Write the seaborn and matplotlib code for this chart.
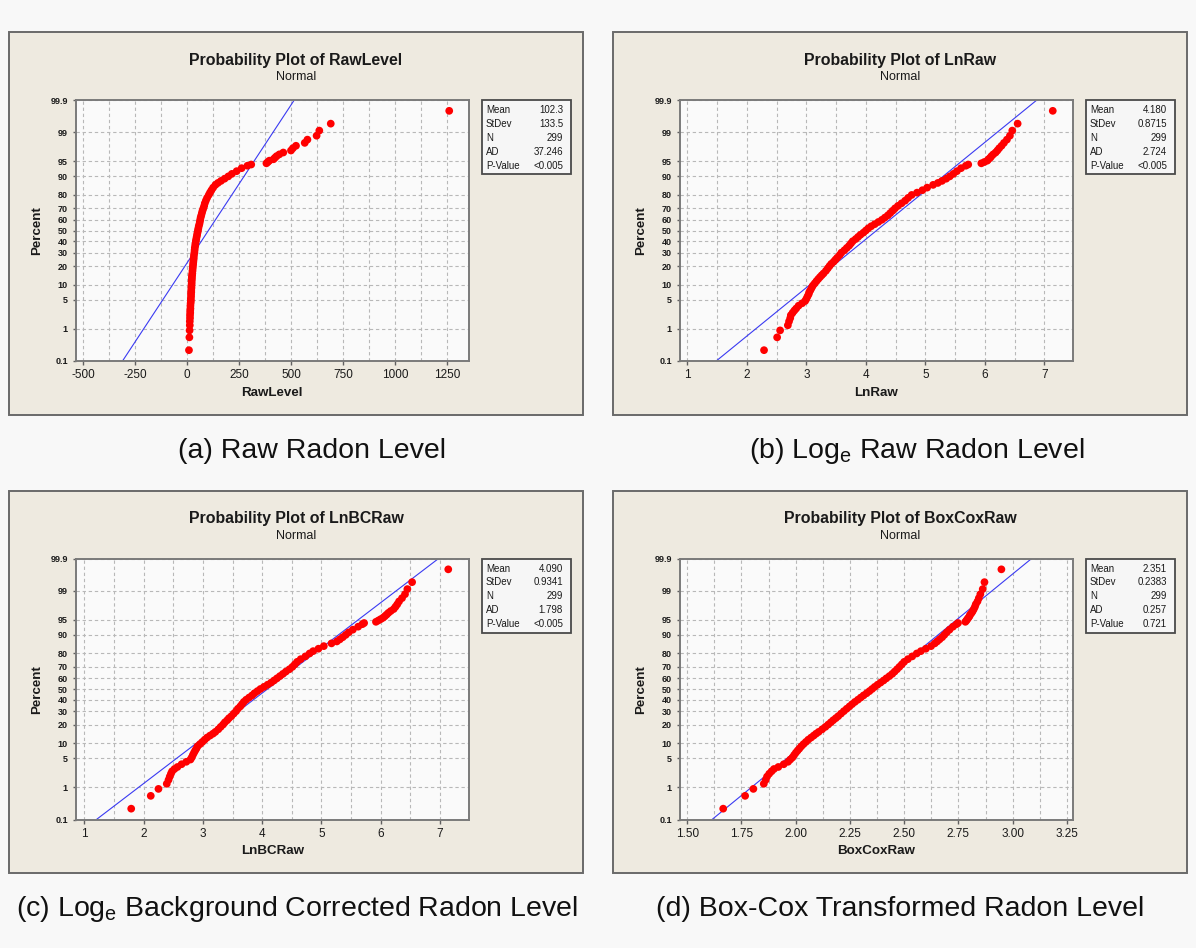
"""Four Minitab-style normal probability plots of radon levels."""

import statistics
import matplotlib
matplotlib.use("Agg")
import matplotlib.pyplot as plt
from matplotlib.patches import Rectangle
import pandas as pd
import seaborn as sns


# plotting positions (percent) of the plotted points - same 299 samples in every panel
percent = [0.23, 0.57, 0.90, 1.24, 1.57, 1.90, 2.24, 2.57, 2.91, 3.24,
           3.74, 4.24, 4.74, 5.24, 5.91, 6.58, 7.25, 7.91, 8.75, 9.59,
           10.5, 11.5, 12.5, 13.5, 14.5, 15.5, 17, 18.5, 20, 21.5,
           23, 24.5, 26, 28, 30, 32, 34, 36, 38, 40,
           42, 44, 46, 48, 50, 52, 54, 56, 58, 60,
           62, 64, 66, 68, 70, 72, 74, 76, 78, 80,
           81.5, 83, 84.5, 86, 87, 88, 89, 90, 91, 92,
           93, 93.75, 94.09, 94.42, 94.76, 95.09, 95.42, 95.76, 96.09, 96.43,
           96.76, 97.09, 97.43, 97.76, 98.10, 98.43, 98.76, 99.10, 99.43, 99.77]

raw_level = [9, 11, 12, 13, 13, 14, 14, 15, 15, 16,
             16, 17, 18, 18, 19, 19, 20, 20, 21, 21,
             22, 22, 23, 23, 24, 25, 26, 27, 28, 29,
             30, 31, 32, 33, 35, 36, 37, 39, 40, 42,
             44, 46, 48, 50, 52, 54, 56, 59, 61, 63,
             65, 68, 71, 74, 78, 82, 85, 90, 96, 104,
             110, 117, 125, 136, 148, 163, 180, 198, 215, 238,
             262, 290, 308, 381, 388, 395, 415, 422, 430, 443,
             462, 499, 508, 523, 565, 578, 622, 635, 690, 1259]

ln_raw = [2.29, 2.51, 2.56, 2.69, 2.71, 2.73, 2.74, 2.77, 2.80, 2.83,
          2.87, 2.93, 2.98, 3.00, 3.02, 3.04, 3.05, 3.07, 3.09, 3.11,
          3.14, 3.17, 3.20, 3.23, 3.26, 3.29, 3.33, 3.36, 3.39, 3.42,
          3.46, 3.49, 3.52, 3.56, 3.59, 3.64, 3.68, 3.72, 3.75, 3.78,
          3.83, 3.87, 3.91, 3.96, 4.00, 4.04, 4.09, 4.15, 4.21, 4.27,
          4.32, 4.37, 4.41, 4.45, 4.49, 4.54, 4.60, 4.66, 4.71, 4.77,
          4.86, 4.95, 5.03, 5.13, 5.21, 5.28, 5.35, 5.41, 5.47, 5.53,
          5.60, 5.68, 5.72, 5.94, 5.99, 6.04, 6.06, 6.09, 6.11, 6.14,
          6.18, 6.21, 6.24, 6.28, 6.32, 6.37, 6.42, 6.46, 6.55, 7.14]

ln_bc_raw = [1.79, 2.12, 2.25, 2.39, 2.42, 2.44, 2.46, 2.48, 2.52, 2.57,
             2.64, 2.72, 2.79, 2.81, 2.83, 2.85, 2.87, 2.89, 2.91, 2.95,
             2.99, 3.03, 3.07, 3.12, 3.17, 3.21, 3.26, 3.30, 3.34, 3.37,
             3.41, 3.44, 3.48, 3.52, 3.56, 3.59, 3.63, 3.66, 3.69, 3.73,
             3.78, 3.83, 3.87, 3.92, 3.97, 4.03, 4.09, 4.15, 4.20, 4.25,
             4.30, 4.35, 4.40, 4.46, 4.51, 4.55, 4.59, 4.65, 4.73, 4.80,
             4.86, 4.95, 5.04, 5.17, 5.26, 5.31, 5.36, 5.41, 5.46, 5.53,
             5.62, 5.69, 5.72, 5.92, 5.96, 6.00, 6.04, 6.07, 6.10, 6.13,
             6.17, 6.22, 6.25, 6.28, 6.31, 6.36, 6.41, 6.45, 6.53, 7.14]

boxcox_raw = [1.666, 1.767, 1.805, 1.853, 1.862, 1.868, 1.878, 1.889, 1.900, 1.920,
              1.945, 1.965, 1.975, 1.985, 1.993, 2.001, 2.009, 2.017, 2.026, 2.036,
              2.047, 2.058, 2.071, 2.083, 2.094, 2.106, 2.122, 2.137, 2.150, 2.162,
              2.173, 2.185, 2.196, 2.209, 2.222, 2.235, 2.248, 2.260, 2.273, 2.287,
              2.300, 2.313, 2.327, 2.340, 2.352, 2.364, 2.377, 2.391, 2.405, 2.418,
              2.432, 2.445, 2.456, 2.467, 2.478, 2.489, 2.500, 2.517, 2.537, 2.558,
              2.577, 2.600, 2.624, 2.641, 2.652, 2.663, 2.675, 2.685, 2.696, 2.709,
              2.725, 2.741, 2.748, 2.782, 2.787, 2.791, 2.796, 2.801, 2.804, 2.811,
              2.816, 2.821, 2.826, 2.830, 2.838, 2.844, 2.851, 2.862, 2.870, 2.948]

# summary statistics shown in the boxes (and used for the fitted lines)
stat_labels = ["Mean", "StDev", "N", "AD", "P-Value"]
raw_stats = ["102.3", "133.5", "299", "37.246", "<0.005"]
ln_stats = ["4.180", "0.8715", "299", "2.724", "<0.005"]
lnbc_stats = ["4.090", "0.9341", "299", "1.798", "<0.005"]
boxcox_stats = ["2.351", "0.2383", "299", "0.257", "0.721"]

pct_ticks = [0.1, 1, 5, 10, 20, 30, 40, 50, 60, 70, 80, 90, 95, 99, 99.9]

raw_xticks = [-500, -250, 0, 250, 500, 750, 1000, 1250]
ln_xticks = [1, 2, 3, 4, 5, 6, 7]
boxcox_xticks = [1.50, 1.75, 2.00, 2.25, 2.50, 2.75, 3.00, 3.25]

panels = [
    dict(name="RawLevel", values=raw_level, stats=raw_stats, xlim=(-536, 1354),
         xticks=raw_xticks, fmt="{:g}", grid=125, origin=(0, 0),
         caption="(a) Raw Radon Level", cap_x=312),
    dict(name="LnRaw", values=ln_raw, stats=ln_stats, xlim=(0.87, 7.48),
         xticks=ln_xticks, fmt="{:g}", grid=0.5, origin=(604, 0),
         caption=r"(b) Log$_{\mathregular{e}}$ Raw Radon Level", cap_x=917),
    dict(name="LnBCRaw", values=ln_bc_raw, stats=lnbc_stats, xlim=(0.85, 7.49),
         xticks=ln_xticks, fmt="{:g}", grid=0.5, origin=(0, 458.5),
         caption=r"(c) Log$_{\mathregular{e}}$ Background Corrected Radon Level", cap_x=297),
    dict(name="BoxCoxRaw", values=boxcox_raw, stats=boxcox_stats, xlim=(1.4646, 3.278),
         xticks=boxcox_xticks, fmt="{:.2f}", grid=0.125, origin=(604, 458.5),
         caption="(d) Box-Cox Transformed Radon Level", cap_x=900),
]

W, H = 1196, 948
FRAME = (9, 32.5, 574, 382)     # x, y, w, h in px, relative to panel origin
PLOT = (75.5, 100, 393.5, 261)
BOX = (482, 100, 89, 74)

sns.set_theme(style="white")
plt.rcParams["font.family"] = ["Liberation Sans", "DejaVu Sans"]
plt.rcParams["axes.unicode_minus"] = False

nd = statistics.NormalDist()
z = [nd.inv_cdf(p / 100) for p in percent]
z_lo, z_hi = nd.inv_cdf(0.001), nd.inv_cdf(0.999)


def fig_rect(x, y, w, h):
    return [x / W, 1 - (y + h) / H, w / W, h / H]


def fig_text(x, y, s, **kw):
    fig.text(x / W, 1 - y / H, s, **kw)


fig = plt.figure(figsize=(W / 100, H / 100), dpi=100, facecolor="#F8F8F8")

for p in panels:
    ox, oy = p["origin"]

    # beige graph frame
    fx, fy, fw, fh = FRAME
    fig.patches.append(Rectangle(fig_rect(ox + fx, oy + fy, fw, fh)[:2], fw / W, fh / H,
                                 transform=fig.transFigure, facecolor="#EEEAE0",
                                 edgecolor="#6A6A6A", lw=1.4, zorder=-2))

    px, py, pw, ph = PLOT
    ax = fig.add_axes(fig_rect(ox + px, oy + py, pw, ph))
    ax.set_facecolor("#FAFAFA")

    df = pd.DataFrame({"value": p["values"], "z": z})

    mean, sd = float(p["stats"][0]), float(p["stats"][1])
    line = pd.DataFrame({"x": [mean + sd * z_lo, mean + sd * z_hi], "y": [z_lo, z_hi]})
    sns.lineplot(data=line, x="x", y="y", color="#3A3AF2", lw=0.8, sort=False,
                 estimator=None, ax=ax, zorder=2)
    sns.scatterplot(data=df, x="value", y="z", color="#FF0000", s=31, linewidth=0,
                    edgecolor="none", legend=False, ax=ax, zorder=3)

    ax.set_xlim(*p["xlim"])
    ax.set_ylim(z_lo, z_hi)

    ax.set_xticks(p["xticks"])
    ax.set_xticklabels([p["fmt"].format(t) for t in p["xticks"]], fontsize=8.5, color="#1A1A1A")
    g0 = p["xticks"][0]
    grid_x = []
    k = 0
    while g0 + k * p["grid"] <= p["xticks"][-1] + 1e-9:
        grid_x.append(g0 + k * p["grid"])
        k += 1
    ax.set_xticks(grid_x, minor=True)

    ax.set_yticks([nd.inv_cdf(t / 100) for t in pct_ticks])
    ax.set_yticklabels([f"{t:g}" for t in pct_ticks], fontsize=6.5, color="#1A1A1A",
                       weight="bold")

    ax.tick_params(axis="x", which="major", direction="out", length=3, width=1,
                   color="#606060", pad=3)
    ax.tick_params(axis="y", which="major", direction="out", length=2.2, width=1,
                   color="#606060", pad=3.2)
    ax.tick_params(which="minor", length=0)
    ax.tick_params(left=True, bottom=True)

    ax.set_axisbelow(True)
    ax.grid(True, which="both", axis="x", color="#B8B8B8", lw=0.8, ls=(0, (3, 2.5)))
    ax.grid(True, which="major", axis="y", color="#B8B8B8", lw=0.8, ls=(0, (3, 2.5)))
    for s in ax.spines.values():
        s.set_visible(True)
        s.set_color("#7A7A7A")
        s.set_linewidth(1.4)
    ax.set_xlabel("")
    ax.set_ylabel("")

    # titles and axis labels
    fig_text(ox + 296, oy + 65, "Probability Plot of " + p["name"], ha="center",
             va="baseline", fontsize=11.4, weight="bold", color="#1A1A1A")
    fig_text(ox + 296, oy + 80.5, "Normal", ha="center", va="baseline",
             fontsize=9, color="#1A1A1A")
    fig_text(ox + px + pw / 2, oy + 396, p["name"], ha="center", va="baseline",
             fontsize=9.6, weight="bold", color="#1A1A1A")
    fig_text(ox + 37, oy + 231, "Percent", ha="center", va="center", rotation=90,
             fontsize=9.6, weight="bold", color="#1A1A1A")

    # statistics box
    bx, by, bw, bh = BOX
    fig.patches.append(Rectangle(fig_rect(ox + bx, oy + by, bw, bh)[:2], bw / W, bh / H,
                                 transform=fig.transFigure, facecolor="#F6F6F6",
                                 edgecolor="#4A4A4A", lw=1.3, zorder=1))
    for i, (lab, val) in enumerate(zip(stat_labels, p["stats"])):
        yb = oy + by + 13 + i * 13.9
        fig_text(ox + bx + 4, yb, lab, ha="left", va="baseline", fontsize=7,
                 color="#1A1A1A", zorder=2)
        fig_text(ox + bx + bw - 8, yb, val, ha="right", va="baseline", fontsize=7,
                 color="#1A1A1A", zorder=2)

    # sub-figure caption
    fig_text(p["cap_x"], oy + 458, p["caption"], ha="center", va="baseline",
             fontsize=20.5, color="#111111")

fig.savefig("out.png", dpi=100, facecolor=fig.get_facecolor())
